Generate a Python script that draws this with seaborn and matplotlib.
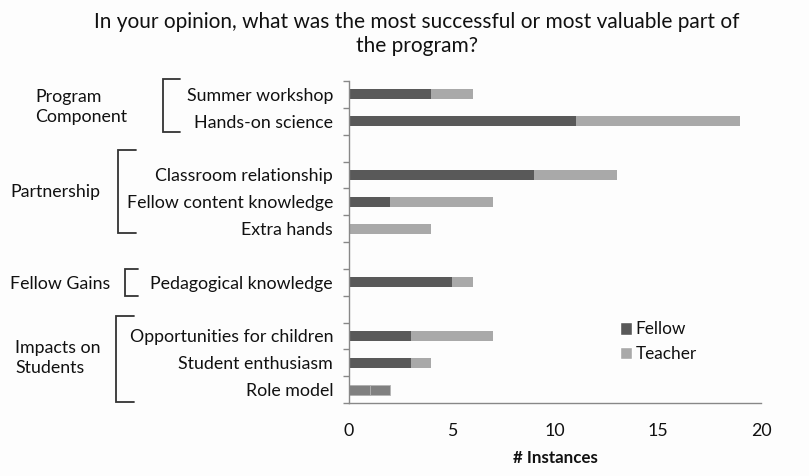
import matplotlib.pyplot as plt
from matplotlib.lines import Line2D
from matplotlib.patches import Patch
import seaborn as sns
import pandas as pd

# answer items top to bottom, blank names keep the gaps between groups
items = ["Summer workshop", "Hands-on science", " ",
         "Classroom relationship", "Fellow content knowledge", "Extra hands", "  ",
         "Pedagogical knowledge", "   ",
         "Opportunities for children", "Student enthusiasm", "Role model"]
fellow = [4, 11, 0, 9, 2, 0, 0, 5, 0, 3, 3, 1]
teacher = [2, 8, 0, 4, 5, 4, 0, 1, 0, 4, 1, 1]
groups = ["Program\nComponent", "Partnership", "Fellow Gains", "Impacts on\nStudents"]
x_ticks = [0, 5, 10, 15, 20]

W, H = 809, 476
FELLOW_C = "#595959"
TEACHER_C = "#a9a9a9"
TEXT_C = "#111111"

sns.set_style("white")
plt.rcParams["font.family"] = ["Lato", "DejaVu Sans"]

df = pd.DataFrame({"item": items, "Fellow": fellow, "Teacher": teacher})
df["total"] = df["Fellow"] + df["Teacher"]

fig = plt.figure(figsize=(W / 100, H / 100), dpi=100, facecolor="#fdfdfd")
ax = fig.add_axes([349 / W, 1 - 403 / H, (761 - 349) / W, (403 - 81) / H])
ax.set_facecolor("#fdfdfd")

# stacked: total bar underneath in teacher colour, fellow part over it
sns.barplot(data=df, x="total", y="item", order=items, color=TEACHER_C,
            width=0.37, linewidth=0, errorbar=None, orient="h", ax=ax)
sns.barplot(data=df, x="Fellow", y="item", order=items, color=FELLOW_C,
            width=0.37, linewidth=0, errorbar=None, orient="h", ax=ax)

# role model row shows as a medium grey in the source
n = len(items)
for p in (ax.patches[n - 1], ax.patches[2 * n - 1]):
    p.set_facecolor("#808080")
    p.set_edgecolor("#b5b5b5")
    p.set_linewidth(0.6)

ax.set_xlim(0, 20)
ax.set_ylim(n - 0.5, -0.5)
ax.set_xticks(x_ticks)
ax.set_xticklabels([str(t) for t in x_ticks], fontsize=12.8, color=TEXT_C)
ax.tick_params(axis="x", length=4, width=1, color="#888888", pad=10.5, direction="out")

ax.set_yticks([i - 0.5 for i in range(n + 1)])
ax.set_yticklabels([])
ax.set_yticks(range(n), minor=True)
ax.set_yticklabels([s.strip() for s in items], minor=True, fontsize=12.8, color=TEXT_C)
ax.tick_params(axis="y", which="major", length=4, width=1, color="#888888", direction="out", left=True)
ax.tick_params(axis="y", which="minor", length=0, pad=11.5)
ax.set_ylabel("")
ax.set_xlabel("# Instances", fontsize=12.2, fontweight="bold", color=TEXT_C, labelpad=7.5)

sns.despine(ax=ax, top=True, right=True)
for s in ("left", "bottom"):
    ax.spines[s].set_color("#888888")
    ax.spines[s].set_linewidth(1)

fig.text(417 / W, 1 - 34 / H,
         "In your opinion, what was the most successful or most valuable part of\nthe program?",
         ha="center", va="center", fontsize=15.0, color=TEXT_C, linespacing=1.25)

# group labels with brackets (pixel positions)
label_pos = [(35, 107), (10, 192), (10, 284), (15, 358)]
brackets = [(163, 79, 132, 17), (118, 150, 233, 18), (125, 269, 296, 13), (116, 316, 402, 18)]
for g, (lx, ly) in zip(groups, label_pos):
    fig.text(lx / W, 1 - ly / H, g, ha="left", va="center", fontsize=12.8,
             color=TEXT_C, linespacing=1.25)
for bx, y0, y1, arm in brackets:
    xs = [(bx + arm) / W, bx / W, bx / W, (bx + arm) / W]
    ys = [1 - y0 / H, 1 - y0 / H, 1 - y1 / H, 1 - y1 / H]
    fig.add_artist(Line2D(xs, ys, color="#333333", linewidth=1.3,
                          transform=fig.transFigure, solid_joinstyle="miter"))

handles = [Patch(facecolor=FELLOW_C, label="Fellow"), Patch(facecolor=TEACHER_C, label="Teacher")]
fig.legend(handles=handles, loc="upper left", bbox_to_anchor=(604 / W, 1 - 306 / H),
           bbox_transform=fig.transFigure, frameon=False, fontsize=12.4,
           handlelength=0.7, handleheight=0.7, handletextpad=0.25, labelspacing=0.5,
           labelcolor=TEXT_C)

fig.savefig("out.png", dpi=100, facecolor=fig.get_facecolor())
